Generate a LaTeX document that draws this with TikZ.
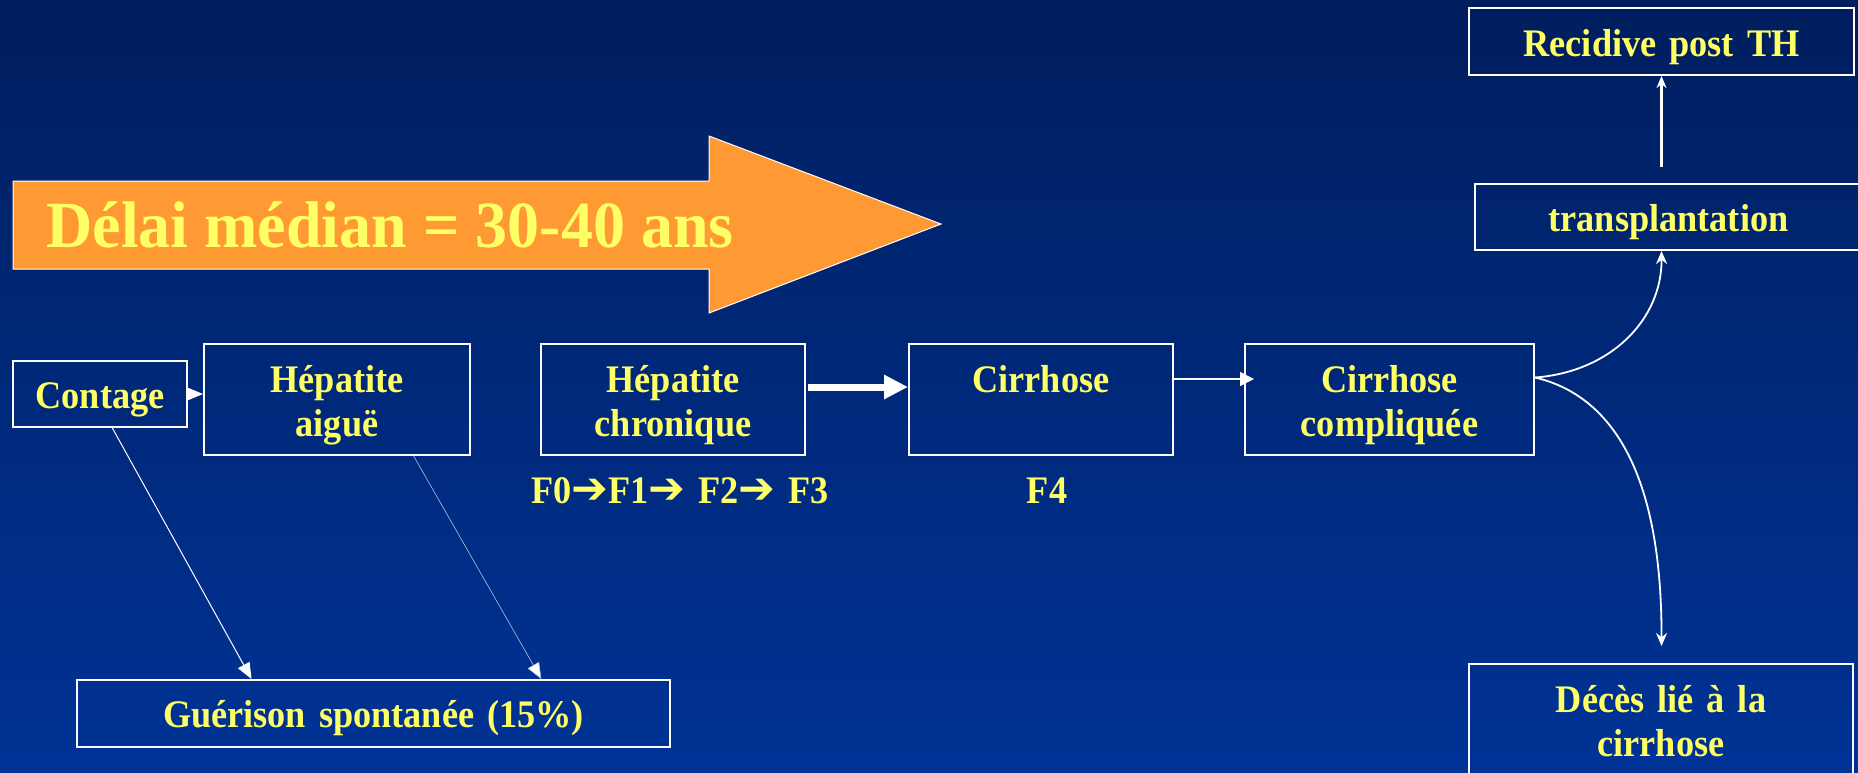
\documentclass[tikz,border=0pt]{standalone}
\usepackage{fontspec}
\setmainfont{Liberation Serif}[FakeStretch=0.93]
\newfontfamily\bigserif{Liberation Serif}[FakeStretch=0.97]
\newfontfamily\djv{DejaVu Sans Bold}
\usetikzlibrary{arrows.meta,calc}
\definecolor{bgtop}{RGB}{0,30,94}
\definecolor{bgbot}{RGB}{0,51,150}
\definecolor{txtyel}{RGB}{255,255,102}
\definecolor{orng}{RGB}{255,153,51}
\newcommand{\harr}{{\djv\fontsize{22}{22}\selectfont ➔}}
\begin{document}
\begin{tikzpicture}[x=0.5pt,y=-0.5pt,
  box/.style={draw=white,line width=1pt,rectangle,inner sep=0pt},
  lbl/.style={text=txtyel,font=\fontsize{19.5}{22}\selectfont\bfseries,anchor=base,inner sep=0pt,align=center,text width=180pt},
  thinarr/.style={draw=white,line width=0.5pt,-{Triangle[length=8pt,width=6.5pt]}},
  fadearr/.style={draw=white!70!bgbot,line width=0.3pt,-{Triangle[length=8pt,width=6.5pt,fill=white]}},
  bigarr/.style={draw=white,line width=3.5pt,-{Triangle[length=12pt,width=11.5pt]}},
  medarr/.style={draw=white,line width=0.75pt,-{Triangle[length=7pt,width=7pt]}},
  curvarr/.style={draw=white,line width=0.9pt,-{Stealth[length=6.5pt,width=5.5pt]}}]
\useasboundingbox (0,0) rectangle (1858,772);
\fill[top color=bgtop,bottom color=bgbot] (0,0) rectangle (1858,772);

% big orange arrow
\draw[fill=orng,draw=white,line width=0.5pt] (13,181) -- (709,181) -- (709,136) -- (941,224) -- (709,313) -- (709,269) -- (13,269) -- cycle;
\node[text=txtyel,font=\bigserif\fontsize{33}{36}\selectfont\bfseries,anchor=base west,inner sep=0pt] (delai) at (46,247) {Délai médian = 30-40 ans};

% boxes
\node[box,minimum width=87pt,minimum height=33pt] (contage) at (100,394) {};
\node[box,minimum width=133pt,minimum height=55.5pt] (aigue) at (337,399.5) {};
\node[box,minimum width=132pt,minimum height=55.5pt] (chron) at (673,399.5) {};
\node[box,minimum width=132pt,minimum height=55.5pt] (cirr) at (1041,399.5) {};
\node[box,minimum width=144.5pt,minimum height=55.5pt] (cc) at (1389.5,399.5) {};
\node[box,minimum width=192.5pt,minimum height=33.5pt] (recid) at (1661.5,41.5) {};
\node[box,minimum width=193.5pt,minimum height=33pt] (trans) at (1668.5,217) {};
\node[box,minimum width=296.5pt,minimum height=33.5pt] (guer) at (373.5,713.5) {};
\node[box,minimum width=192pt,minimum height=63pt] (deces) at (1661,727) {};

% texts
\node[lbl] (tcontage) at ($(contage.north)+(0,48)$) {Contage};
\node[lbl] (taigue) at ($(aigue.north)+(0,49)$) {Hépatite\\aiguë};
\node[lbl] (tchron) at ($(chron.north)+(0,49)$) {Hépatite\\chronique};
\node[lbl] (tcirr) at ($(cirr.north)+(0,49)$) {Cirrhose};
\node[lbl] (tcc) at ($(cc.north)+(0,49)$) {Cirrhose\\compliquée};
\node[lbl] (trecid) at ($(recid.north)+(0,49)$) {Recidive post TH};
\node[lbl] (ttrans) at ($(trans.north)+(0,48)$) {transplantation};
\node[lbl,text width=290pt] (tguer) at ($(guer.north)+(0,48)$) {Guérison spontanée (15\%)};
\node[lbl] (tdeces) at ($(deces.north)+(0,49)$) {Décès lié à la\\cirrhose};
\node[lbl,text width=200pt] (fstages) at (680,503) {F0\harr F1\harr{} F2\harr{} F3};
\node[lbl] (ffour) at (1047,503) {F4};

% connectors
\draw[thinarr] (contage.east) -- (contage.east -| aigue.west);
\draw[thinarr] ($(contage.south west)!0.57!(contage.south east)$) -- ($(guer.north west)!0.295!(guer.north east)$);
\draw[fadearr] ($(aigue.south west)!0.786!(aigue.south east)$) -- ($(guer.north west)!0.782!(guer.north east)$);
\draw[bigarr] ($(chron.east)+(2,-12.5)$) -- ($(cirr.west)+(0,-12.5)$);
\draw[medarr] ($(cirr.east)+(0,-20.5)$) -- ($(cc.west)+(10,-20.5)$);
\coordinate (ccout) at ($(cc.east)+(0,-22)$);
\draw[curvarr] (ccout) .. controls (1610,372) and (1662,320) .. (trans.south -| recid.south);
\draw[curvarr] (ccout) .. controls (1610,395) and (1662,470) .. ($(deces.north -| recid.south)+(0,-17)$);
\draw[draw=white,line width=1.5pt,-{Stealth[length=6pt,width=5pt]}] ($(trans.north -| recid.south)+(0,-16)$) -- (recid.south);
\end{tikzpicture}
\end{document}
